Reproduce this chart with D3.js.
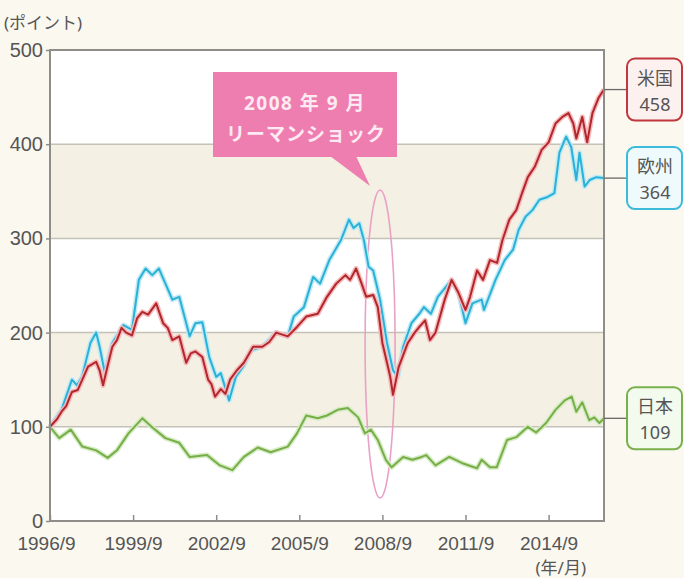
<!DOCTYPE html>
<html>
<head>
<meta charset="utf-8">
<script src="https://cdn.jsdelivr.net/npm/d3@7"></script>
<style>
  body { margin: 0; background: #fbf8f0; }
  svg { display: block; font-family: "Noto Sans", "Noto Sans CJK JP", sans-serif; }
</style>
</head>
<body>
<svg width="684" height="578"></svg>
<script>
// months counted from 1996/9
const tickMonths = [0, 36, 72, 108, 144, 180, 216];
const tickLabels = ["1996/9", "1999/9", "2002/9", "2005/9", "2008/9", "2011/9", "2014/9"];
const yTicks = [0, 100, 200, 300, 400, 500];

const usMonths = [0, 3, 5, 7, 9.5, 12, 14, 16.5, 20, 21.5, 23, 25, 27, 29, 31, 33, 35.5, 37.7, 40, 42.5, 46, 49, 51, 53, 56, 59, 61, 63, 66, 68.5, 70, 71.5, 74, 76, 78, 81, 84, 88, 92, 95, 98, 103, 107, 111, 116, 120, 124, 128, 130, 132.6, 135, 137, 140, 142, 144, 146, 147.4, 148.6, 151, 155, 158, 160, 162.5, 164.6, 167, 171, 174, 177, 180, 182, 185, 187.6, 190.6, 193.7, 196, 199, 202, 204.5, 207, 210, 213, 216, 219, 222, 224.6, 226.7, 228, 230.6, 232.7, 235, 237.6, 240];
const usValues = [100, 108, 116, 122, 137, 139, 150, 164, 169, 160, 144, 165, 185, 192, 205, 200, 197, 215, 222, 219, 231, 210, 205, 192, 196, 168, 178, 180, 174, 150, 145, 132, 140, 135, 150, 160, 168, 185, 185, 190, 200, 196, 206, 217, 220, 238, 252, 261, 256, 268, 252, 238, 240, 227, 189, 168, 153, 134, 163, 189, 200, 206, 213, 192, 200, 235, 256, 242, 224, 238, 266, 256, 277, 274, 298, 320, 330, 348, 365, 376, 394, 402, 422, 429, 433, 422, 406, 429, 402, 433, 449, 458];

const euMonths = [0, 5, 9.5, 11.7, 13.9, 17.5, 20, 21.5, 23.7, 27, 31.8, 35.5, 38.5, 41.4, 44.3, 47.2, 50, 53, 56, 60.5, 63, 66, 69, 72, 74, 77.6, 80.5, 84, 87, 92, 98, 103, 105.6, 110, 114, 117, 121, 126, 129.5, 131.5, 134, 136, 138, 140, 143, 146, 148.6, 150.7, 153, 156.6, 160, 162, 165, 168, 174, 177, 180, 183, 187, 188, 193, 197, 200.6, 203, 206, 209, 212, 215.6, 218.5, 220.7, 223.6, 225.8, 228, 229.4, 231.6, 233.8, 236.7, 240];
const euValues = [100, 118, 150, 144, 153, 189, 200, 185, 158, 189, 208, 203, 256, 268, 261, 268, 252, 235, 238, 196, 210, 211, 174, 153, 157, 128, 153, 165, 181, 185, 200, 196, 217, 227, 259, 252, 277, 298, 320, 311, 316, 298, 270, 266, 235, 189, 160, 153, 185, 210, 220, 227, 220, 238, 256, 242, 210, 231, 235, 224, 256, 277, 288, 309, 323, 330, 341, 344, 348, 391, 408, 397, 362, 391, 355, 362, 365, 364];

const jpMonths = [0, 4, 9, 14, 20, 25, 29, 34, 40, 44, 50, 56, 60.5, 68, 73.6, 79, 84, 90, 95.6, 103, 107, 111, 116, 120, 124.6, 129, 133.5, 136.4, 139, 142, 145.5, 148, 153, 157, 161, 163, 167, 173, 179, 185, 187, 190.6, 193.5, 198, 202, 207, 210.6, 214.9, 219, 223, 226, 228, 230.6, 233.6, 235.8, 238, 240];
const jpValues = [100, 88, 97, 79, 75, 67, 75, 93, 109, 100, 88, 83, 68, 70, 59, 54, 68, 78, 73, 79, 93, 112, 109, 112, 118, 120, 110, 93, 97, 86, 65, 57, 68, 65, 68, 70, 59, 68, 61, 56, 65, 57, 57, 86, 89, 100, 94, 104, 118, 128, 132, 116, 126, 107, 110, 104, 109];

const seriesNames = ["米国", "欧州", "日本"];
const lastValues = [458, 364, 109];

const svg = d3.select("svg");
const plotLeft = 50, plotRight = 604, plotTop = 50, plotBottom = 521;

const x = d3.scaleLinear().domain([0, 240]).range([plotLeft, plotRight]);
const y = d3.scaleLinear().domain([0, 500]).range([plotBottom, plotTop]);

// plot background and bands
svg.append("rect").attr("x", plotLeft).attr("y", plotTop)
    .attr("width", plotRight - plotLeft).attr("height", plotBottom - plotTop).attr("fill", "#ffffff");
[[100, 200], [300, 400]].forEach(b => {
    svg.append("rect").attr("x", plotLeft).attr("y", y(b[1]))
        .attr("width", plotRight - plotLeft).attr("height", y(b[0]) - y(b[1]))
        .attr("fill", "#f4f0e3");
});

// grid lines
svg.append("g").selectAll("line").data([100, 200, 300, 400]).join("line")
    .attr("x1", plotLeft).attr("x2", plotRight)
    .attr("y1", d => y(d)).attr("y2", d => y(d))
    .attr("stroke", "#c4c1b8").attr("stroke-width", 1.5);

// callout ellipse
svg.append("ellipse").attr("cx", x(143)).attr("cy", 344).attr("rx", 15).attr("ry", 154)
    .attr("fill", "none").attr("stroke", "#e9a2c6").attr("stroke-width", 1.6);

// lines
const line = d3.line().x(d => x(d[0])).y(d => y(d[1]));
const series = [
    { m: jpMonths, v: jpValues, c: "#78ae48", glow: "#d5ecc4" },
    { m: euMonths, v: euValues, c: "#2bb0d6", glow: "#bfeaf6" },
    { m: usMonths, v: usValues, c: "#b3262b", glow: "#f4b9bb" }
];
series.forEach(s => {
    const pts = s.m.map((m, i) => [m, s.v[i]]);
    svg.append("path").attr("d", line(pts)).attr("fill", "none")
        .attr("stroke", s.glow).attr("stroke-width", 5).attr("stroke-linejoin", "round");
    svg.append("path").attr("d", line(pts)).attr("fill", "none")
        .attr("stroke", s.c).attr("stroke-width", 2).attr("stroke-linejoin", "round");
});

// frame
svg.append("rect").attr("x", plotLeft).attr("y", plotTop)
    .attr("width", plotRight - plotLeft).attr("height", plotBottom - plotTop)
    .attr("fill", "none").attr("stroke", "#8f8d88").attr("stroke-width", 2);

// axes
const xAxis = svg.append("g").attr("transform", `translate(0,${plotBottom})`)
    .call(d3.axisBottom(x).tickValues(tickMonths).tickFormat((d, i) => tickLabels[i])
        .tickSize(-6).tickPadding(16));
xAxis.select(".domain").remove();
xAxis.selectAll("line").attr("stroke", "#8f8d88").attr("stroke-width", 1.5);
xAxis.selectAll("text").attr("font-size", 19).attr("fill", "#555");
xAxis.selectAll("text").filter((d, i) => i === 0).attr("dx", -4);

const yAxis = svg.append("g").attr("transform", `translate(${plotLeft},0)`)
    .call(d3.axisLeft(y).tickValues(yTicks).tickSize(4).tickPadding(3));
yAxis.select(".domain").remove();
yAxis.selectAll("line").attr("stroke", "#8f8d88").attr("stroke-width", 1.5);
yAxis.selectAll("text").attr("font-size", 20).attr("fill", "#555");

svg.append("text").attr("x", 4).attr("y", 29).attr("font-size", 17).attr("fill", "#555")
    .text("(ポイント)");
svg.append("text").attr("x", 586).attr("y", 574).attr("text-anchor", "end")
    .attr("font-size", 17).attr("fill", "#555").text("(年/月)");

// callout box
svg.append("path").attr("d", "M330,156 L356,156 L370,186 Z").attr("fill", "#ef7eb0");
svg.append("rect").attr("x", 213).attr("y", 72).attr("width", 184).attr("height", 85)
    .attr("fill", "#ef7eb0");
svg.append("text").attr("x", 305).attr("y", 110).attr("text-anchor", "middle")
    .attr("font-size", 19).attr("font-weight", "bold").attr("fill", "#fdeaf2")
    .attr("letter-spacing", 1.5).text("2008 年 9 月");
svg.append("text").attr("x", 306).attr("y", 141).attr("text-anchor", "middle")
    .attr("font-size", 19).attr("font-weight", "bold").attr("fill", "#fdeaf2")
    .attr("letter-spacing", 1).text("リーマンショック");

// end labels
const labelStroke = ["#c0383d", "#3cbad9", "#7ab04b"];
const labelFill = ["#fdf1f0", "#effafc", "#f3faee"];
lastValues.forEach((v, i) => {
    const cy = y(v);
    svg.append("line").attr("x1", plotRight).attr("x2", 627).attr("y1", cy).attr("y2", cy)
        .attr("stroke", "#6b6864").attr("stroke-width", 1.3);
    svg.append("rect").attr("x", 627).attr("y", cy - 31).attr("width", 55).attr("height", 62)
        .attr("rx", 8).attr("fill", labelFill[i]).attr("stroke", labelStroke[i]).attr("stroke-width", 2);
    svg.append("text").attr("x", 655).attr("y", cy - 5).attr("text-anchor", "middle")
        .attr("font-size", 18).attr("fill", "#555").text(seriesNames[i]);
    svg.append("text").attr("x", 655).attr("y", cy + 21).attr("text-anchor", "middle")
        .attr("font-size", 18).attr("fill", "#555").text(v);
});
</script>
</body>
</html>
